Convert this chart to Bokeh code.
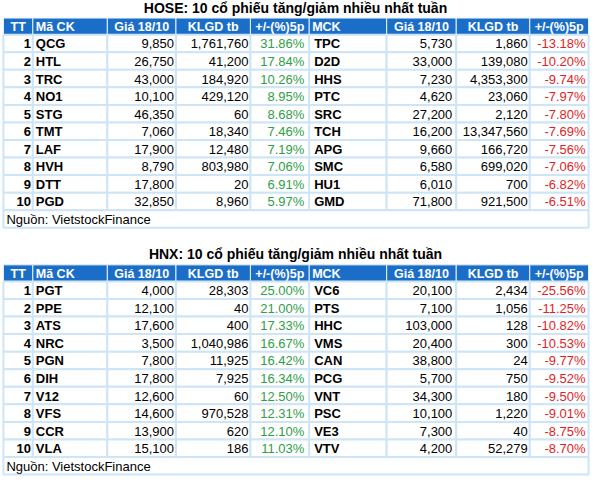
from bokeh.plotting import figure
from bokeh.models import Range1d, ColumnDataSource
from bokeh.core.properties import value
from bokeh.embed import file_html
from bokeh.resources import INLINE

# ---------------- data ----------------
title_hose = "HOSE: 10 cổ phiếu tăng/giảm nhiều nhất tuần"
title_hnx = "HNX: 10 cổ phiếu tăng/giảm nhiều nhất tuần"
headers = ["TT", "Mã CK", "Giá 18/10", "KLGD tb", "+/-(%)5p", "MCK", "Giá 18/10", "KLGD tb", "+/-(%)5p"]
source_note = "Nguồn: VietstockFinance"
ranks = [1, 2, 3, 4, 5, 6, 7, 8, 9, 10]

hose_up_codes = ["QCG", "HTL", "TRC", "NO1", "STG", "TMT", "LAF", "HVH", "DTT", "PGD"]
hose_up_price = [9850, 26750, 43000, 10100, 46350, 7060, 17900, 8790, 17800, 32850]
hose_up_vol = [1761760, 41200, 184920, 429120, 60, 18340, 12480, 803980, 20, 8960]
hose_up_pct = [31.86, 17.84, 10.26, 8.95, 8.68, 7.46, 7.19, 7.06, 6.91, 5.97]

hose_dn_codes = ["TPC", "D2D", "HHS", "PTC", "SRC", "TCH", "APG", "SMC", "HU1", "GMD"]
hose_dn_price = [5730, 33000, 7230, 4620, 27200, 16200, 9660, 6580, 6010, 71800]
hose_dn_vol = [1860, 139080, 4353300, 23060, 2120, 13347560, 166720, 699020, 700, 921500]
hose_dn_pct = [-13.18, -10.20, -9.74, -7.97, -7.80, -7.69, -7.56, -7.06, -6.82, -6.51]

hnx_up_codes = ["PGT", "PPE", "ATS", "NRC", "PGN", "DIH", "V12", "VFS", "CCR", "VLA"]
hnx_up_price = [4000, 12100, 17600, 3500, 7800, 17800, 12600, 14600, 13900, 15100]
hnx_up_vol = [28303, 40, 400, 1040986, 11925, 7925, 60, 970528, 620, 186]
hnx_up_pct = [25.00, 21.00, 17.33, 16.67, 16.42, 16.34, 12.50, 12.31, 12.10, 11.03]

hnx_dn_codes = ["VC6", "PTS", "HHC", "VMS", "CAN", "PCG", "VNT", "PSC", "VE3", "VTV"]
hnx_dn_price = [20100, 7100, 103000, 20400, 38800, 5700, 34300, 10100, 7300, 4200]
hnx_dn_vol = [2434, 1056, 128, 300, 24, 750, 180, 1220, 40, 52279]
hnx_dn_pct = [-25.56, -11.25, -10.82, -10.53, -9.77, -9.52, -9.50, -9.01, -8.75, -8.70]

# ---------------- layout (styles) ----------------
BLUE = "#1b6ec8"
GRID = "#cde5f6"
GREEN = "#2f9e48"
RED = "#e01e28"
FONT = value("Liberation Sans")
FS = value("13px")
HFS = value("12.5px")
TFS = value("14px")

col_edges = [5, 35, 111, 181, 257, 317, 396, 467, 542, 602]
ROW_H = 18

p = figure(width=591, height=478, output_backend="svg", toolbar_location=None,
           x_range=Range1d(2, 605), y_range=Range1d(492, 2))
p.axis.visible = False
p.grid.visible = False
p.outline_line_color = None
p.min_border = 0
p.background_fill_color = "white"


def fmt_int(v):
    return f"{v:,}"


def fmt_pct(v):
    return f"{v:.2f}%"


def draw_table(title, title_y, header_top, up, dn):
    up_codes, up_price, up_vol, up_pct = up
    dn_codes, dn_price, dn_vol, dn_pct = dn
    header_bot = header_top + 17
    # title
    p.text(x=[303], y=[title_y], text=[title], text_font=FONT, text_font_size=TFS,
           text_font_style="bold", text_align="center", text_baseline="middle", text_color="black")
    # header cells
    p.quad(left=col_edges[:-1], right=col_edges[1:], top=[header_top] * 9, bottom=[header_bot] * 9,
           fill_color=BLUE, line_color="#e8f2fb", line_width=1)
    hx, ha = [], []
    for i, h in enumerate(headers):
        if h in ("Mã CK", "MCK"):
            hx.append(col_edges[i] + 3)
            ha.append("left")
        else:
            hx.append((col_edges[i] + col_edges[i + 1]) / 2)
            ha.append("center")
    hsrc = ColumnDataSource(dict(x=hx, y=[(header_top + header_bot) / 2 + 0.5] * 9, t=headers, a=ha))
    p.text(x="x", y="y", text="t", text_align="a", source=hsrc, text_font=FONT, text_font_size=HFS,
           text_font_style="bold", text_baseline="middle", text_color="white")
    # body cells
    L, R, T, B = [], [], [], []
    for r in range(len(ranks)):
        for c in range(9):
            L.append(col_edges[c]); R.append(col_edges[c + 1])
            T.append(header_bot + r * ROW_H); B.append(header_bot + (r + 1) * ROW_H)
    p.quad(left=L, right=R, top=T, bottom=B, fill_color="white", line_color=GRID, line_width=2)
    src_top = header_bot + len(ranks) * ROW_H
    p.quad(left=[col_edges[0]], right=[col_edges[-1]], top=[src_top], bottom=[src_top + 18],
           fill_color="white", line_color=GRID, line_width=2)
    p.text(x=[col_edges[0] + 3], y=[src_top + 9.5], text=[source_note], text_font=FONT, text_font_size=FS,
           text_align="left", text_baseline="middle", text_color="black")

    ys = [header_bot + (r + 0.5) * ROW_H + 0.5 for r in range(len(ranks))]

    def col_text(xs, texts, align, color, bold=False):
        p.text(x=xs, y=ys, text=texts, text_font=FONT, text_font_size=FS,
               text_font_style="bold" if bold else "normal",
               text_align=align, text_baseline="middle", text_color=color)

    n = len(ranks)
    col_text([col_edges[1] - 2] * n, [str(v) for v in ranks], "right", "black", True)
    col_text([col_edges[1] + 3] * n, up_codes, "left", "black", True)
    col_text([col_edges[3] - 2] * n, [fmt_int(v) for v in up_price], "right", "black")
    col_text([col_edges[4] - 2] * n, [fmt_int(v) for v in up_vol], "right", "black")
    col_text([col_edges[5] - 5] * n, [fmt_pct(v) for v in up_pct], "right", GREEN)
    col_text([col_edges[5] + 5] * n, dn_codes, "left", "black", True)
    col_text([col_edges[7] - 4] * n, [fmt_int(v) for v in dn_price], "right", "black")
    col_text([col_edges[8] - 2] * n, [fmt_int(v) for v in dn_vol], "right", "black")
    col_text([col_edges[9] - 3] * n, [fmt_pct(v) for v in dn_pct], "right", RED)


draw_table(title_hose, 10, 20,
           (hose_up_codes, hose_up_price, hose_up_vol, hose_up_pct),
           (hose_dn_codes, hose_dn_price, hose_dn_vol, hose_dn_pct))
draw_table(title_hnx, 262, 273,
           (hnx_up_codes, hnx_up_price, hnx_up_vol, hnx_up_pct),
           (hnx_dn_codes, hnx_dn_price, hnx_dn_vol, hnx_dn_pct))

open("out.html", "w").write(file_html(p, INLINE))
